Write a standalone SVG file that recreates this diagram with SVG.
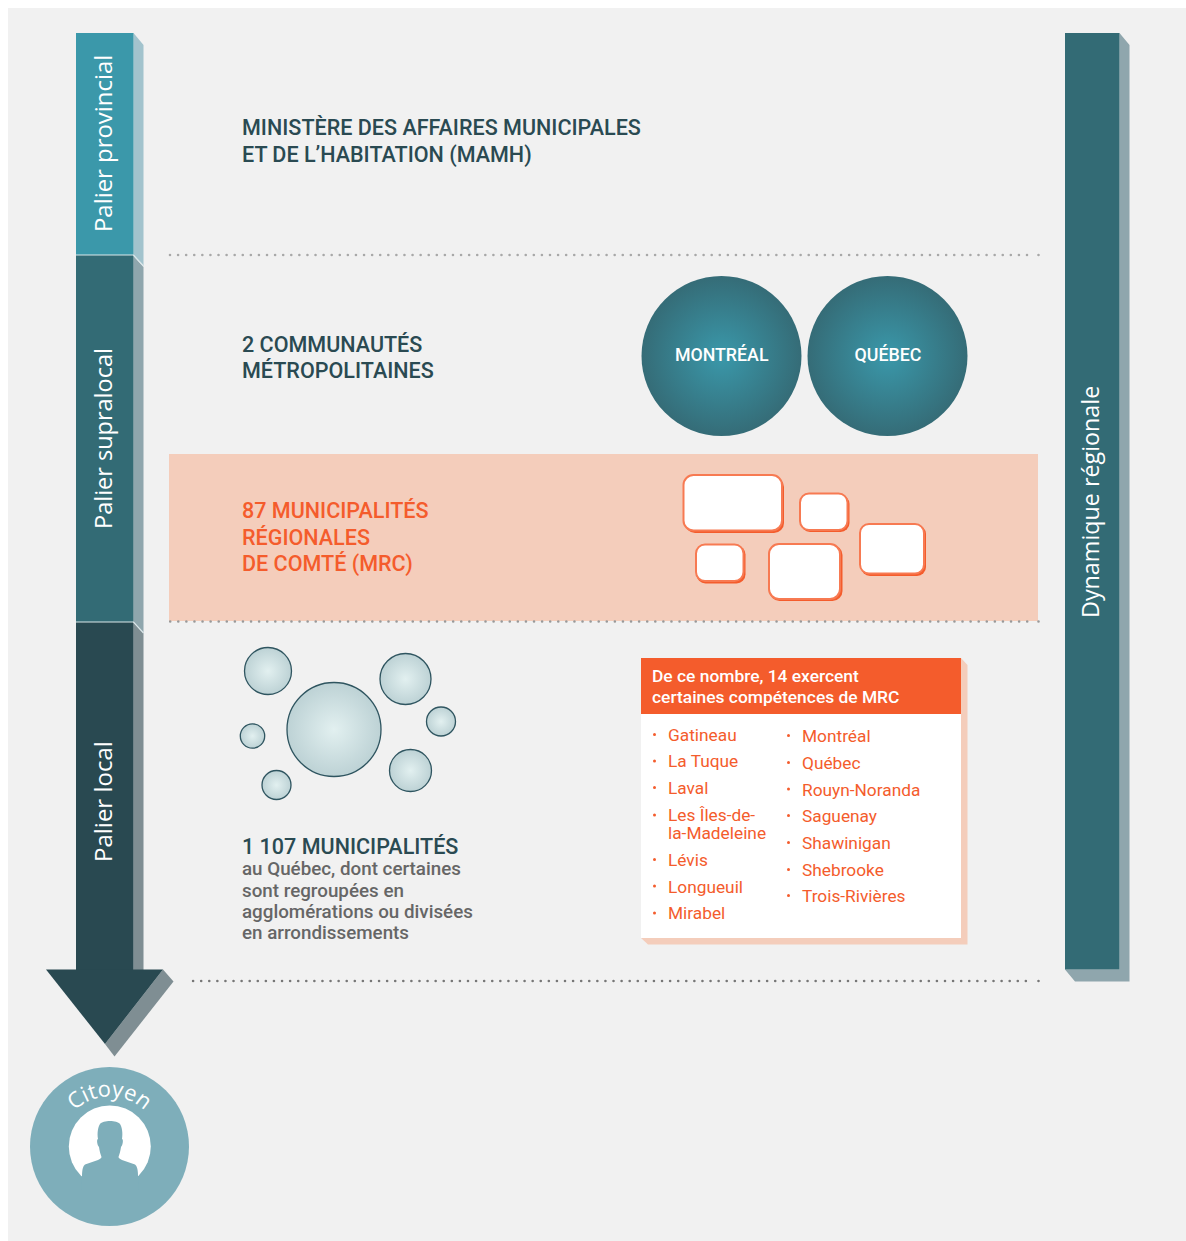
<svg xmlns="http://www.w3.org/2000/svg" xmlns:xlink="http://www.w3.org/1999/xlink" width="1186" height="1241" viewBox="0 0 1186 1241">
<style>
.h{font-family:Roboto,"Liberation Sans",sans-serif;font-weight:500;font-size:21.55px;fill:#2a4a52}
.o{fill:#f45c2c}
.v{font-family:"Open Sans","Noto Sans",sans-serif;font-size:24px;fill:#fff}
.g{font-family:Roboto,"Liberation Sans",sans-serif;font-weight:500;font-size:18.8px;fill:#666}
.c{font-family:Roboto,"Liberation Sans",sans-serif;font-weight:500;font-size:17.8px;fill:#fff;text-anchor:middle}
.l{font-family:Roboto,"Liberation Sans",sans-serif;font-size:17.3px;fill:#f45c2c}
.b{font-family:Roboto,"Liberation Sans",sans-serif;font-weight:500;font-size:17.4px;fill:#fff}
.d{fill:none;stroke:#a8a8a8;stroke-width:2.6;stroke-linecap:round;stroke-dasharray:0 8.085}
.m{fill:#fff;stroke:#f77a52;stroke-width:2}
.ms{fill:#f45c2c}
.s{fill:url(#sm);stroke:#2f5560;stroke-width:1.3}
</style>
<defs>
<radialGradient id="big"><stop offset="0" stop-color="#3a98aa"/><stop offset="1" stop-color="#356c77"/></radialGradient>
<radialGradient id="sm"><stop offset="0" stop-color="#e2f0f0"/><stop offset="1" stop-color="#bdd2d5"/></radialGradient>
<path id="arc" d="M59.500 1146.500A50 50 0 0 1 159.500 1146.500"/>
</defs>
<rect width="1186" height="1241" fill="#fff"/>
<rect x="8" y="8" width="1178" height="1233" fill="#f1f1f1"/>
<rect x="169" y="454" width="869" height="167" fill="#f4cdbb"/>
<g id="connectors">
<path class="d" d="M170 255H1031M1038.500 255h.01"/>
<path class="d" d="M170.200 621.500H1031M1038.500 621.500h.01" style="stroke:#999"/>
<path class="d" d="M193.100 981H1031M1038.500 981h.01" style="stroke:#777"/>
</g>
<g id="palier-provincial">
<path d="M133.500 33L143.500 45V266L133.500 255Z" fill="#a2c3cd"/>
<rect x="76" y="33" width="57.500" height="222" fill="#3b98aa"/>
<text class="v" style="font-size:23.9px" transform="translate(112 232) rotate(-90)">Palier provincial</text>
</g>
<g id="palier-supralocal">
<path d="M133.500 256L143.500 267V633L133.500 622Z" fill="#8fa6ad"/>
<rect x="76" y="255" width="57.500" height="367" fill="#336b75"/>
<path d="M76 255H133.500L143.500 266" fill="none" stroke="#dbe7ea" stroke-width="1.200"/>
<text class="v" style="font-size:23.5px" transform="translate(112 529) rotate(-90)">Palier supralocal</text>
</g>
<g id="palier-local">
<path d="M133.500 622L143.500 633V970H133.500Z" fill="#7f8e93"/>
<rect x="76" y="622" width="57.500" height="348" fill="#294951"/>
<path d="M76 622H133.500L143.500 633" fill="none" stroke="#dbe7ea" stroke-width="1.200"/>
<text class="v" transform="translate(112 862) rotate(-90)">Palier local</text>
<path d="M163 969.500L173.500 981.500L114.500 1056.500L105 1044Z" fill="#7f8e93"/>
<path d="M46 969.500H163L105 1044Z" fill="#294951"/>
</g>
<g id="citoyen">
<circle cx="109.500" cy="1146.500" r="79.500" fill="#7eaeba"/>
<circle cx="109.800" cy="1146.500" r="41" fill="#fff"/>
<path d="M98 1139C97 1133 98 1127 100 1124C103 1120 117 1120 120 1124C122 1127 123 1133 122 1139C123.500 1139 123 1145 121 1147C120.500 1151 119.500 1154 118.500 1157C118.500 1158 120 1159 122 1160L135 1164.500C137 1166 138 1170 138 1176L139 1190H81L82 1176C82 1170 83 1166 85 1164.500L98 1160C100 1159 101.500 1158 101.500 1157C100.500 1154 99.500 1151 99 1147C97 1145 96.500 1139 98 1139Z" fill="#7eaeba"/>
<text font-family="'Open Sans','Noto Sans',sans-serif" font-size="22" fill="#fff" text-anchor="middle"><textPath xlink:href="#arc" href="#arc" startOffset="50%">Citoyen</textPath></text>
</g>
<g id="dynamique">
<path d="M1119.500 33L1129.500 45V981.500H1075L1065 969.500H1119.500Z" fill="#8fa6ad"/>
<rect x="1065" y="33" width="54.500" height="936.500" fill="#336b75"/>
<text class="v" style="font-size:23.3px" transform="translate(1099 618) rotate(-90)">Dynamique régionale</text>
</g>
<g id="mamh">
<text class="h" x="242" y="135">MINISTÈRE DES AFFAIRES MUNICIPALES</text>
<text class="h" x="242" y="162">ET DE L’HABITATION (MAMH)</text>
</g>
<g id="communautes">
<text class="h" x="242" y="352">2 COMMUNAUTÉS</text>
<text class="h" x="242" y="378">MÉTROPOLITAINES</text>
</g>
<g id="montreal">
<circle cx="721.500" cy="356" r="80" fill="url(#big)"/>
<text class="c" x="721.700" y="360.500">MONTRÉAL</text>
</g>
<g id="quebec">
<circle cx="887.500" cy="356" r="80" fill="url(#big)"/>
<text class="c" x="888" y="360.500">QUÉBEC</text>
</g>
<g id="mrc">
<text class="h o" x="242" y="518">87 MUNICIPALITÉS</text>
<text class="h o" x="242" y="545">RÉGIONALES</text>
<text class="h o" x="242" y="571">DE COMTÉ (MRC)</text>
</g>
<g id="mrc-shapes">
<rect class="ms" x="685" y="477" width="99" height="56" rx="10"/><rect class="m" x="683.500" y="475" width="98.500" height="55.500" rx="10"/>
<rect class="ms" x="801" y="495" width="48.500" height="37" rx="9"/><rect class="m" x="800" y="493.500" width="47.500" height="36.500" rx="9"/>
<rect class="ms" x="861" y="525" width="65" height="51" rx="9"/><rect class="m" x="860" y="524" width="64" height="49.500" rx="9"/>
<rect class="ms" x="696.500" y="545.500" width="49" height="38" rx="9"/><rect class="m" x="696" y="544.500" width="47.500" height="36.500" rx="9"/>
<rect class="ms" x="769.500" y="545" width="73" height="56" rx="10"/><rect class="m" x="769" y="544" width="71" height="55" rx="10"/>
</g>
<g id="municipalites-bulles">
<circle class="s" cx="268" cy="671" r="23.500"/>
<circle class="s" cx="405.500" cy="679" r="25.500"/>
<circle class="s" cx="334" cy="729.500" r="47"/>
<circle class="s" cx="441" cy="721.500" r="14.500"/>
<circle class="s" cx="252.500" cy="736" r="12.200"/>
<circle class="s" cx="410.500" cy="770.500" r="21"/>
<circle class="s" cx="276.500" cy="785" r="14.500"/>
</g>
<g id="municipalites">
<text class="h" x="242" y="854">1 107 MUNICIPALITÉS</text>
<text class="g" x="242" y="875">au Québec, dont certaines</text>
<text class="g" x="242" y="897">sont regroupées en</text>
<text class="g" x="242" y="918">agglomérations ou divisées</text>
<text class="g" x="242" y="939">en arrondissements</text>
</g>
<g id="encadre">
<path d="M961 658L967.500 665V944.500H648L641 938H961Z" fill="#f4cdbb"/>
<rect x="641" y="658" width="320" height="280" fill="#fff"/>
<rect x="641" y="658" width="320" height="56" fill="#f45c2c"/>
<text class="b" x="652" y="682">De ce nombre, 14 exercent</text>
<text class="b" x="652" y="703">certaines compétences de MRC</text>
<g fill="#f45c2c">
<circle cx="654.500" cy="734.500" r="1.500"/><circle cx="654.500" cy="761" r="1.500"/><circle cx="654.500" cy="787.500" r="1.500"/><circle cx="654.500" cy="815" r="1.500"/><circle cx="654.500" cy="859.500" r="1.500"/><circle cx="654.500" cy="886" r="1.500"/><circle cx="654.500" cy="913" r="1.500"/>
<circle cx="788.500" cy="735.500" r="1.500"/><circle cx="788.500" cy="762.500" r="1.500"/><circle cx="788.500" cy="789" r="1.500"/><circle cx="788.500" cy="815.500" r="1.500"/><circle cx="788.500" cy="842.500" r="1.500"/><circle cx="788.500" cy="869.500" r="1.500"/><circle cx="788.500" cy="895.500" r="1.500"/>
</g>
<text class="l" x="668" y="741">Gatineau</text>
<text class="l" x="668" y="767">La Tuque</text>
<text class="l" x="668" y="794">Laval</text>
<text class="l" x="668" y="821">Les Îles-de-</text>
<text class="l" x="668" y="839">la-Madeleine</text>
<text class="l" x="668" y="866">Lévis</text>
<text class="l" x="668" y="893">Longueuil</text>
<text class="l" x="668" y="919">Mirabel</text>
<text class="l" x="802" y="742">Montréal</text>
<text class="l" x="802" y="769">Québec</text>
<text class="l" x="802" y="796">Rouyn-Noranda</text>
<text class="l" x="802" y="822">Saguenay</text>
<text class="l" x="802" y="849">Shawinigan</text>
<text class="l" x="802" y="876">Shebrooke</text>
<text class="l" x="802" y="902">Trois-Rivières</text>
</g>
</svg>
